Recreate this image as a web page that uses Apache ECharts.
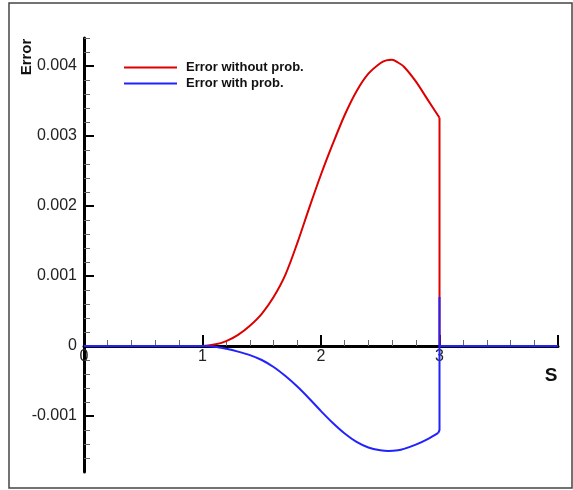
<!DOCTYPE html>
<html>
<head>
<meta charset="utf-8">
<script src="https://cdn.jsdelivr.net/npm/echarts@6/dist/echarts.min.js"></script>
<style>
  html, body { margin: 0; padding: 0; background: #fff; }
  #main { width: 573px; height: 490px; }
</style>
</head>
<body>
<div id="main"></div>
<script>
// S values and errors
const sRed = [0, 1.0, 1.1, 1.2, 1.3, 1.4, 1.5, 1.6, 1.7, 1.8, 1.9, 2.0, 2.1, 2.2, 2.3, 2.4, 2.5, 2.55, 2.6, 2.65, 2.7, 2.8, 2.9, 3.0];
const errRed = [0, 0, 0.00002, 0.00007, 0.00016, 0.00029, 0.00046, 0.0007, 0.00102, 0.00147, 0.00197, 0.00245, 0.00289, 0.0033, 0.00364, 0.00389, 0.00404, 0.00408, 0.00409, 0.00405, 0.00399, 0.00378, 0.00352, 0.00326];
const sRedTail = [3.0, 3.0, 4.0];
const errRedTail = [0.00326, 0, 0];

const sBlue = [0, 1.0, 1.1, 1.2, 1.3, 1.4, 1.5, 1.6, 1.7, 1.8, 1.9, 2.0, 2.1, 2.2, 2.3, 2.4, 2.5, 2.57, 2.65, 2.7, 2.8, 2.9, 2.99];
const errBlue = [0, 0, -0.00001, -0.00004, -0.00008, -0.00013, -0.0002, -0.0003, -0.00043, -0.00058, -0.00075, -0.00093, -0.0011, -0.00125, -0.00137, -0.00145, -0.00149, -0.0015, -0.00149, -0.00147, -0.00141, -0.00133, -0.00124];
const sBlueTail = [2.99, 3.0, 3.0, 3.0, 4.0];
const errBlueTail = [-0.00124, -0.0012, 0.0007, 0, 0];

const yMajorTicks = [-0.001, 0, 0.001, 0.002, 0.003, 0.004];
const yTickLabels = ['-0.001', '0', '0.001', '0.002', '0.003', '0.004'];
const yMinorTicks = [];
for (let i = -9; i <= 22; i++) {
  if (i % 5 !== 0) yMinorTicks.push(i * 0.0002);
}

const zip = (xs, ys) => xs.map((x, i) => [x, ys[i]]);

var myChart = echarts.init(document.getElementById('main'));
var option;

const font = 'Liberation Sans, Arial, sans-serif';
const red = '#dd0000';
const blue = '#2222ff';

option = {
  animation: false,
  backgroundColor: '#fff',
  grid: { left: 84, right: 15, top: 38, bottom: 18 },
  legend: {
    data: ['Error without prob.', 'Error with prob.'],
    orient: 'vertical',
    left: 124,
    top: 61,
    padding: 0,
    itemGap: 3,
    icon: 'rect',
    itemWidth: 53,
    itemHeight: 2,
    textStyle: { fontFamily: font, fontSize: 13, fontWeight: 'bold', color: '#111', padding: [0, 0, 0, 4] }
  },
  xAxis: {
    type: 'value',
    min: 0,
    max: 4,
    interval: 1,
    offset: -126,
    axisLine: { onZero: false, lineStyle: { color: '#000', width: 3 } },
    axisTick: { inside: true, length: 11, lineStyle: { color: '#000', width: 2 } },
    minorTick: { show: true, splitNumber: 5, length: 6, lineStyle: { color: '#666', width: 1 } },
    axisLabel: {
      margin: 3,
      fontFamily: font,
      fontSize: 16,
      color: '#222',
      formatter: v => (v === 4 ? '' : String(v))
    },
    splitLine: { show: false }
  },
  yAxis: [
    {
      type: 'value',
      min: -0.0018,
      max: 0.0044,
      axisLine: { show: true, onZero: false, lineStyle: { color: '#000', width: 3 } },
      axisTick: { show: true, inside: true, length: 10, customValues: yMajorTicks, lineStyle: { color: '#000', width: 2 } },
      axisLabel: {
        customValues: yMajorTicks,
        margin: 7,
        fontFamily: font,
        fontSize: 16,
        color: '#222',
        formatter: v => {
          const k = yMajorTicks.findIndex(t => Math.abs(t - v) < 1e-9);
          return k >= 0 ? yTickLabels[k] : '';
        }
      },
      splitLine: { show: false }
    },
    {
      type: 'value',
      position: 'left',
      min: -0.0018,
      max: 0.0044,
      axisLine: { show: false },
      axisTick: { show: true, inside: true, length: 6, customValues: yMinorTicks, lineStyle: { color: '#666', width: 1 } },
      axisLabel: { show: false },
      splitLine: { show: false }
    }
  ],
  series: [
    {
      name: 'Error without prob.',
      type: 'line',
      data: zip(sRed, errRed),
      smooth: 0.3,
      showSymbol: false,
      color: red,
      lineStyle: { color: red, width: 2 },
      z: 3
    },
    {
      name: 'red tail',
      type: 'line',
      data: zip(sRedTail, errRedTail),
      showSymbol: false,
      color: red,
      lineStyle: { color: red, width: 2 },
      z: 3
    },
    {
      name: 'Error with prob.',
      type: 'line',
      data: zip(sBlue, errBlue),
      smooth: 0.3,
      showSymbol: false,
      color: blue,
      lineStyle: { color: blue, width: 2 },
      z: 4
    },
    {
      name: 'blue tail',
      type: 'line',
      data: zip(sBlueTail, errBlueTail),
      showSymbol: false,
      color: blue,
      lineStyle: { color: blue, width: 2 },
      z: 4
    }
  ],
  graphic: [
    {
      type: 'rect',
      shape: { x: 9, y: 3, width: 563, height: 485 },
      style: { fill: 'none', stroke: '#444', lineWidth: 1.5 },
      silent: true
    },
    {
      type: 'text',
      x: 27,
      y: 57,
      rotation: Math.PI / 2,
      style: { text: 'Error', fontFamily: font, fontSize: 15, fontWeight: 'bold', fill: '#111', align: 'center', verticalAlign: 'middle' }
    },
    {
      type: 'text',
      x: 551,
      y: 376,
      style: { text: 'S', fontFamily: font, fontSize: 19, fontWeight: 'bold', fill: '#111', align: 'center', verticalAlign: 'middle' }
    }
  ]
};

option && myChart.setOption(option);
</script>
</body>
</html>
